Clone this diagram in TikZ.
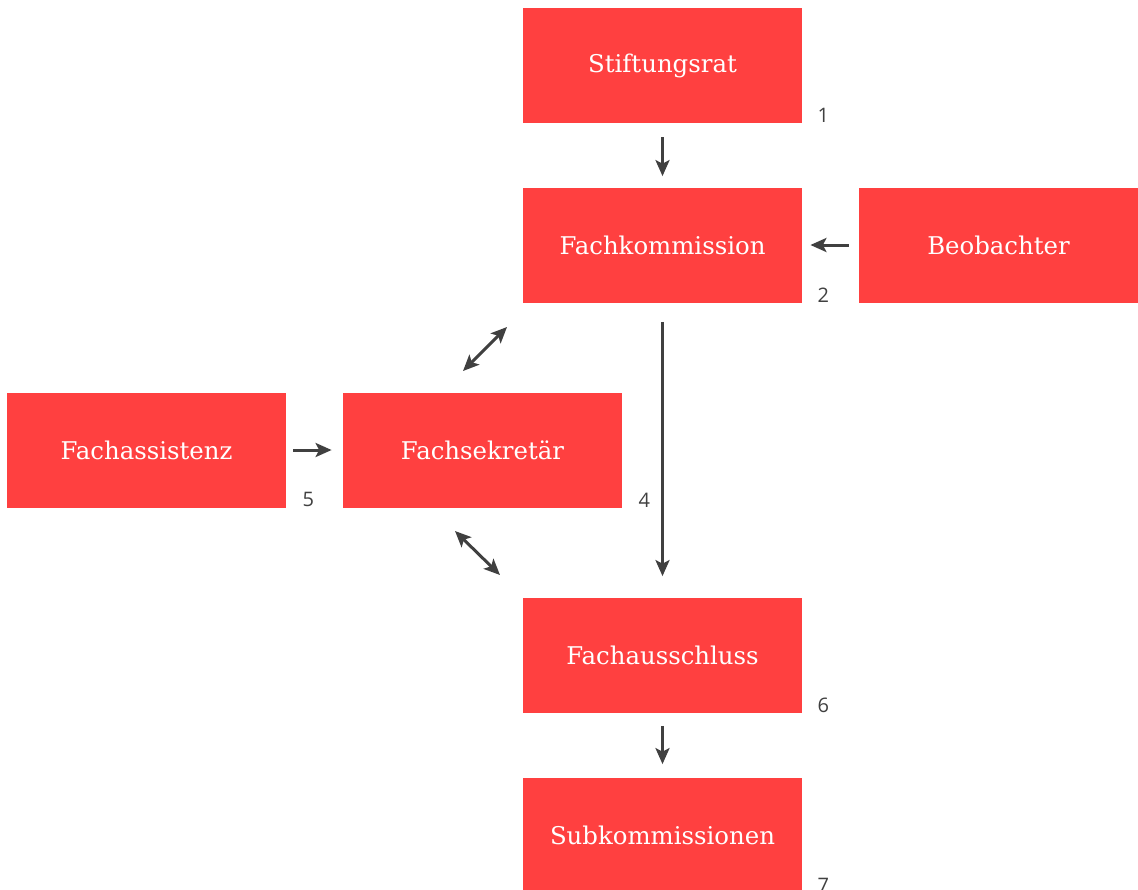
\documentclass[tikz,border=0pt]{standalone}
\usepackage{fontspec}
\setmainfont{DejaVu Serif}
\newfontfamily\numfont{Open Sans}
\usepackage{xcolor}
\usetikzlibrary{calc,arrows.meta}
\definecolor{boxred}{HTML}{FF4040}
\definecolor{arrgray}{HTML}{404040}

\begin{document}
\begin{tikzpicture}[x=0.5pt, y=-0.5pt,
    box/.style={fill=boxred, text=white, minimum width=139.5pt, minimum height=57.5pt,
      inner sep=0pt, font=\fontsize{12.2}{14}\selectfont},
    num/.style={text=arrgray, inner sep=0pt, font=\numfont\fontsize{10}{11}\selectfont},
    arr/.style={arrgray, line width=1.5pt, -{Stealth[length=8pt, width=7pt, inset=1.8pt]}},
    dbl/.style={arr, {Stealth[length=8pt, width=7pt, inset=1.8pt]}-{Stealth[length=8pt, width=7pt, inset=1.8pt]}}]
  \useasboundingbox (0,0) rectangle (1138,889);
  % boxes
  \node[box] (sr) at (662.5,65.5) {Stiftungsrat};
  \node[box] (fk) at (662.5,245) {Fachkommission};
  \node[box] (bb) at (998.5,245) {Beobachter};
  \node[box] (fs) at (482.5,450) {Fachsekretär};
  \node[box] (fa) at (146.5,450) {Fachassistenz};
  \node[box] (fu) at (662.5,655) {Fachausschluss};
  \node[box] (sk) at (662.5,835) {Subkommissionen};
  % numbers
  \node[num] (n1) at ($(sr.south east)+(21,-8)$) {1};
  \node[num] (n2) at ($(fk.south east)+(21,-8)$) {2};
  \node[num] (n4) at ($(fs.south east)+(22,-8)$) {4};
  \node[num] (n5) at ($(fa.south east)+(22,-8)$) {5};
  \node[num] (n6) at ($(fu.south east)+(21,-8)$) {6};
  \node[num] (n7) at ($(sk.south east)+(21,-8)$) {7};
  % arrows
  \draw[arr, shorten <=14pt*0.5, shorten >=11pt*0.5] (sr) -- (fk);
  \draw[arr, shorten <=10pt*0.5, shorten >=8pt*0.5] (bb) -- (fk);
  \draw[arr, shorten <=19pt*0.5, shorten >=21pt*0.5] (fk) -- (fu);
  \draw[arr, shorten <=7pt*0.5, shorten >=11pt*0.5] (fa) -- (fs);
  \draw[arr, shorten <=13pt*0.5, shorten >=13pt*0.5] (fu) -- (sk);
  \coordinate (d1a) at (463,371);
  \coordinate (d1b) at (507,327);
  \coordinate (d2a) at (455,531);
  \coordinate (d2b) at (500,575);
  \draw[dbl] (d1a) -- (d1b);
  \draw[dbl] (d2a) -- (d2b);
\end{tikzpicture}
\end{document}
